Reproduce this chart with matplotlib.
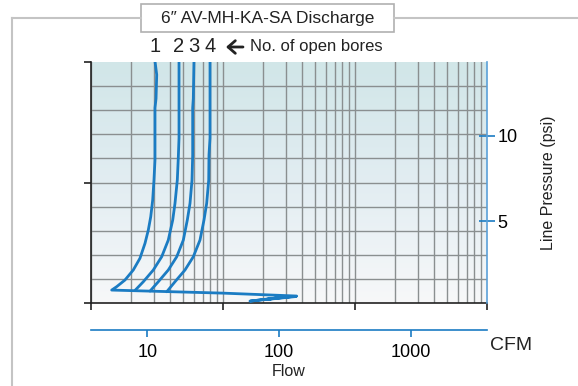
import matplotlib
matplotlib.use("Agg")
import matplotlib.pyplot as plt
import numpy as np
from matplotlib.colors import LinearSegmentedColormap
from matplotlib.patches import Rectangle, FancyArrowPatch
from matplotlib.lines import Line2D

plt.rcParams["font.family"] = ["Liberation Sans", "DejaVu Sans"]

# ---- data (flow in CFM, line pressure in psi) ----
bore1_flow = [11.45, 11.8, 11.66, 11.45, 11.45, 11.25, 11.0, 10.63, 10.19, 9.62,
              8.81, 7.84, 6.78, 5.87, 5.38, 37.6, 135.5, 60.0, 101.0, 78.0, 134.0]
bore1_psi = [14.4, 13.6, 12.2, 11.65, 8.6, 7.41, 6.24, 5.25, 4.47, 3.69,
             2.81, 2.12, 1.53, 1.14, 0.94, 0.76, 0.59, 0.29, 0.50, 0.38, 0.56]

bore2_flow = [17.41, 17.41, 17.19, 16.9, 16.23, 15.6, 14.44, 12.87, 11.12, 9.34, 8.08]
bore2_psi = [14.4, 9.88, 8.7, 7.41, 6.04, 5.06, 3.88, 2.9, 2.12, 1.43, 0.92]

bore3_flow = [22.6, 22.34, 22.1, 22.1, 21.84, 21.09, 20.12, 18.77, 16.73, 14.44, 12.13, 10.5]
bore3_psi = [14.4, 12.2, 11.65, 8.88, 7.41, 6.04, 5.06, 3.88, 2.9, 2.12, 1.43, 0.88]

bore4_flow = [29.9, 29.9, 29.37, 29.23, 28.21, 26.92, 25.1, 22.34, 19.32, 16.23, 14.05]
bore4_psi = [14.4, 9.88, 8.88, 7.41, 6.04, 5.06, 3.88, 2.9, 2.12, 1.43, 0.84]

bore_labels = ["1", "2", "3", "4"]
flow_ticks = [10, 100, 1000]
psi_ticks = [5, 10]

W, H = 578, 386
BLUE = "#1b7cc3"
GRID = "#8a8f90"

fig = plt.figure(figsize=(W / 100, H / 100), dpi=100)


def fx(x):
    return x / W


def fy(y):
    return 1 - y / H


# outer frame and title box
fig.add_artist(Line2D([fx(12), fx(12)], [fy(18), fy(386)], color="#c4c4c4", lw=1.5))
fig.add_artist(Line2D([fx(12), fx(141)], [fy(18), fy(18)], color="#c4c4c4", lw=1.5))
fig.add_artist(Line2D([fx(394), fx(578)], [fy(18), fy(18)], color="#c4c4c4", lw=1.5))
fig.add_artist(Rectangle((fx(141), fy(32)), fx(394) - fx(141), fy(4) - fy(32),
                         transform=fig.transFigure, facecolor="white",
                         edgecolor="#b0b0b0", lw=1.2))
fig.text(fx(268), fy(18), "6\u2033 AV-MH-KA-SA Discharge", ha="center", va="center",
         fontsize=12.5, color="#222222")

# main grid area
x0, x1, yt, yb = 91, 487, 62, 303
ax = fig.add_axes([fx(x0), fy(yb), fx(x1) - fx(x0), fy(yt) - fy(yb)])
xmin, xmax = 3.75, 3750
ax.set_xscale("log")
ax.set_xlim(xmin, xmax)
ax.set_ylim(0, 10)

cmap = LinearSegmentedColormap.from_list("bg", ["#d1e6e8", "#e2edf2", "#f7f8f9"])
grad = np.linspace(0, 1, 256).reshape(-1, 1)
ax.imshow(grad, cmap=cmap, aspect="auto", extent=[0, 1, 0, 1],
          transform=ax.transAxes, zorder=0)

for n in range(3):
    for k in range(1, 10):
        ax.axvline(xmin * k * 10 ** n, color=GRID, lw=1.0, zorder=1)
for j in range(1, 10):
    ax.axhline(j, color=GRID, lw=1.0, zorder=1)

ax.set_xticks([xmin, xmin * 10, xmin * 100, xmax])
ax.set_xticks([], minor=True)
ax.set_yticks([0, 5, 10])
ax.tick_params(axis="both", direction="out", length=5, width=1.2, color="#222222",
               labelbottom=False, labelleft=False)
ax.spines["left"].set_color("#222222")
ax.spines["bottom"].set_color("#222222")
ax.spines["left"].set_linewidth(1.2)
ax.spines["bottom"].set_linewidth(1.2)
ax.spines["top"].set_visible(False)
ax.spines["right"].set_visible(False)

# pressure axis on the right
ax2 = ax.twinx()
ax2.set_ylim(0.18, 14.35)
ax2.set_xlim(xmin, xmax)
ax2.set_yticks(psi_ticks)
ax2.set_yticklabels([str(t) for t in psi_ticks], fontsize=13)
ax2.tick_params(axis="y", direction="inout", length=11, width=1.2, color=BLUE, pad=2)
for s in ["left", "top", "bottom"]:
    ax2.spines[s].set_visible(False)
ax2.spines["right"].set_color("#5aa0d8")
ax2.spines["right"].set_linewidth(1.2)
ax2.set_ylabel("Line Pressure (psi)", fontsize=11.5, labelpad=17, color="#222222")

for fl, ps in [(bore1_flow, bore1_psi), (bore2_flow, bore2_psi),
               (bore3_flow, bore3_psi), (bore4_flow, bore4_psi)]:
    ax2.plot(fl, ps, color=BLUE, lw=2.0, solid_joinstyle="round",
             solid_capstyle="round", zorder=3)

# flow axis underneath
ax3 = fig.add_axes([fx(x0), fy(330), fx(x1) - fx(x0), 0.001])
ax3.set_xscale("log")
ax3.set_xlim(xmin, xmax)
ax3.set_xticks(flow_ticks)
ax3.set_xticklabels([str(t) for t in flow_ticks], fontsize=13)
ax3.set_xticks([], minor=True)
ax3.set_yticks([])
ax3.patch.set_visible(False)
for s in ["left", "top", "right"]:
    ax3.spines[s].set_visible(False)
ax3.spines["bottom"].set_color(BLUE)
ax3.spines["bottom"].set_linewidth(1.2)
ax3.tick_params(axis="x", direction="out", length=5, width=1.2, color=BLUE, pad=5)
ax3.set_xlabel("Flow", fontsize=11.5, labelpad=2, color="#222222")
fig.text(fx(490), fy(346), "CFM", fontsize=14, ha="left", va="center", color="#222222")

# bore labels above curves
top_flows = [bore1_flow[0], bore2_flow[0], bore3_flow[0], bore4_flow[0]]
for lab, f in zip(bore_labels, top_flows):
    xd = ax.transData.transform((f, 10))[0]
    fig.text(xd / fig.dpi / fig.get_figwidth(), fy(47), lab, fontsize=14.5,
             ha="center", va="center", color="#222222")
fig.add_artist(FancyArrowPatch((fx(243), fy(47)), (fx(226), fy(47)),
                               transform=fig.transFigure,
                               arrowstyle="->,head_length=0.4,head_width=0.35",
                               mutation_scale=13, lw=2.0, color="#222222",
                               shrinkA=0, shrinkB=0))
fig.text(fx(250), fy(47), "No. of open bores", fontsize=12, ha="left",
         va="center", color="#222222")

fig.savefig("out.png", dpi=100)
